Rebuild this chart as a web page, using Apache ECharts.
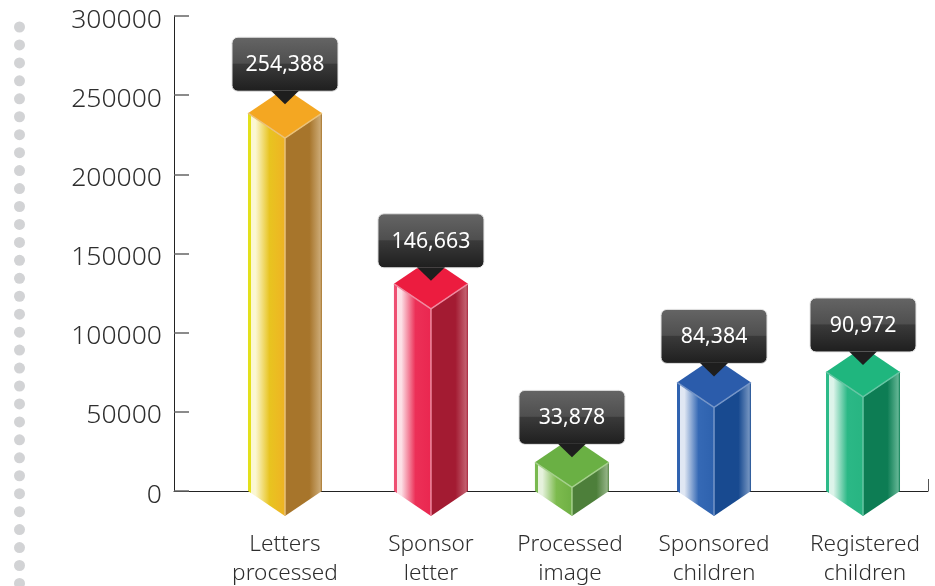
<!DOCTYPE html>
<html>
<head>
<meta charset="utf-8">
<style>
html, body { margin: 0; padding: 0; background: #fff; }
#chart { width: 935px; height: 586px; }
</style>
<script src="https://cdn.jsdelivr.net/npm/echarts@6/dist/echarts.min.js"></script>
</head>
<body>
<div id="chart"></div>
<script>
var categories = ["Letters\nprocessed", "Sponsor\nletter", "Processed\nimage", "Sponsored\nchildren", "Registered\nchildren"];
var values = [254388, 146663, 33878, 84384, 90972];
// bars are not evenly spaced in the picture, so x is a value axis in slots
var barSlots = [0.736, 1.704, 2.639, 3.581, 4.569];
var labelSlots = [0.736, 1.704, 2.626, 3.581, 4.582];
var calloutLift = [16, 22, 20, 19, 18];

// face colours per bar
var topColors = ["#f4a722", "#ec1c3f", "#6ab044", "#2b5cab", "#1fb67e"];
var edgeColors = ["#e3e01a", "#ee4f72", "#79b94f", "#2f62b0", "#2cba88"];
var paleColors = ["#fbf7d2", "#fce0e6", "#e6f2dd", "#e0e7f3", "#ddf4ea"];
var midColors = ["#e8c420", "#ec3057", "#7dbb4e", "#3569b5", "#2bb886"];
var endColors = ["#efb324", "#ea2750", "#6fb044", "#2e62ae", "#28b582"];
var rightColors = ["#a7752b", "#a31b32", "#4d7f3a", "#184a90", "#0d7d54"];
var shineColors = ["#cba974", "#c2606f", "#93b385", "#7393c0", "#63b594"];
var seamColors = ["#eac27a", "#f08aa0", "#a5d08c", "#7696c8", "#66c6a4"];

function hGrad(stops) {
    return {
        type: 'linear', x: 0, y: 0, x2: 1, y2: 0,
        colorStops: stops.map(function(s) { return { offset: s[0], color: s[1] }; })
    };
}

function renderBar(params, api) {
    var i = params.dataIndex;
    var top = api.coord([api.value(0), api.value(1)]);
    var base = api.coord([api.value(0), 0]);
    var cx = top[0], ty = top[1], by = base[1];
    var hw = 37, hh = 25;

    var leftFace = {
        type: 'polygon',
        shape: { points: [[cx - hw, ty + hh], [cx, ty + 2 * hh], [cx, by + hh], [cx - hw, by]] },
        style: {
            fill: hGrad([
                [0, edgeColors[i]], [0.07, edgeColors[i]], [0.09, paleColors[i]], [0.2, paleColors[i]],
                [0.58, midColors[i]], [1, endColors[i]]
            ])
        }
    };
    var rightFace = {
        type: 'polygon',
        shape: { points: [[cx, ty + 2 * hh], [cx + hw, ty + hh], [cx + hw, by], [cx, by + hh]] },
        style: {
            fill: hGrad([
                [0, rightColors[i]], [0.66, rightColors[i]], [0.95, shineColors[i]], [1, rightColors[i]]
            ])
        }
    };
    var topFace = {
        type: 'polygon',
        shape: { points: [[cx, ty], [cx + hw, ty + hh], [cx, ty + 2 * hh], [cx - hw, ty + hh]] },
        style: { fill: topColors[i] }
    };
    var seam = {
        type: 'polyline',
        shape: { points: [[cx - hw, ty + hh], [cx, ty + 2 * hh], [cx + hw, ty + hh]] },
        style: { fill: 'none', stroke: seamColors[i], lineWidth: 1.5 }
    };
    var seam2 = {
        type: 'line',
        shape: { x1: cx, y1: ty + 2 * hh, x2: cx, y2: by + hh },
        style: { stroke: seamColors[i], lineWidth: 1.5 }
    };

    // callout box above the bar
    var tip = ty + calloutLift[i];
    var boxBottom = tip - 13;
    var box = {
        type: 'rect',
        shape: { x: cx - 53, y: boxBottom - 54, width: 106, height: 54, r: 6 },
        style: {
            fill: {
                type: 'linear', x: 0, y: 0, x2: 0, y2: 1,
                colorStops: [
                    { offset: 0, color: '#656565' }, { offset: 0.48, color: '#4f4f4f' },
                    { offset: 0.5, color: '#3a3a3a' }, { offset: 1, color: '#1e1e1e' }
                ]
            },
            stroke: '#e4e4e4', lineWidth: 1
        }
    };
    var arrow = {
        type: 'polygon',
        shape: { points: [[cx - 14, boxBottom - 0.5], [cx + 14, boxBottom - 0.5], [cx, tip]] },
        style: { fill: '#1e1e1e' }
    };
    var label = {
        type: 'text',
        style: {
            x: cx, y: boxBottom - 26,
            text: values[i].toLocaleString('en-US'),
            fill: '#ffffff', font: '400 21.3px "Noto Sans"',
            align: 'center', verticalAlign: 'middle'
        }
    };

    return {
        type: 'group',
        children: [leftFace, rightFace, topFace, seam, seam2, box, arrow, label]
    };
}

// decorative column of dots on the left edge
var dots = [];
for (var d = 0; d < 32; d++) {
    dots.push({
        type: 'circle',
        shape: { cx: 19.5, cy: 27 + d * 17.95, r: 5.5 },
        style: { fill: '#d2d3d5' },
        silent: true
    });
}

var chart = echarts.init(document.getElementById("chart"), null, { renderer: 'canvas' });
chart.setOption({
    animation: false,
    backgroundColor: '#ffffff',
    grid: { left: 174, right: 7, top: 16, bottom: 95, outerBoundsMode: 'none' },
    graphic: dots,
    xAxis: {
        type: 'value',
        min: 0,
        max: 5,
        splitLine: { show: false },
        axisLine: { show: true, onZero: false, lineStyle: { color: '#222222', width: 1 } },
        axisTick: { show: true, inside: true, length: 12, customValues: [5], lineStyle: { color: '#555555', width: 1 } },
        axisLabel: {
            show: true,
            customValues: labelSlots,
            margin: 39,
            fontFamily: 'Noto Sans',
            fontWeight: 300,
            fontSize: 22.6,
            lineHeight: 29,
            color: '#2e2e2e',
            formatter: function(value) {
                return categories[labelSlots.indexOf(value)];
            }
        }
    },
    yAxis: {
        type: 'value',
        min: 0,
        max: 300000,
        interval: 50000,
        splitLine: { show: false },
        axisLine: { show: true, lineStyle: { color: '#222222', width: 1 } },
        axisTick: { show: true, inside: true, length: 15, lineStyle: { color: '#666666', width: 1.5 } },
        axisLabel: {
            margin: 12,
            verticalAlign: 'top',
            lineHeight: 8,
            fontFamily: 'Noto Sans',
            fontWeight: 300,
            fontSize: 26.5,
            color: '#2e2e2e',
            formatter: function(value) { return String(value); }
        }
    },
    series: [{
        type: 'custom',
        renderItem: renderBar,
        clip: false,
        z: 5,
        encode: { x: 0, y: 1 },
        data: values.map(function(v, i) { return [barSlots[i], v]; })
    }]
});
</script>
</body>
</html>
